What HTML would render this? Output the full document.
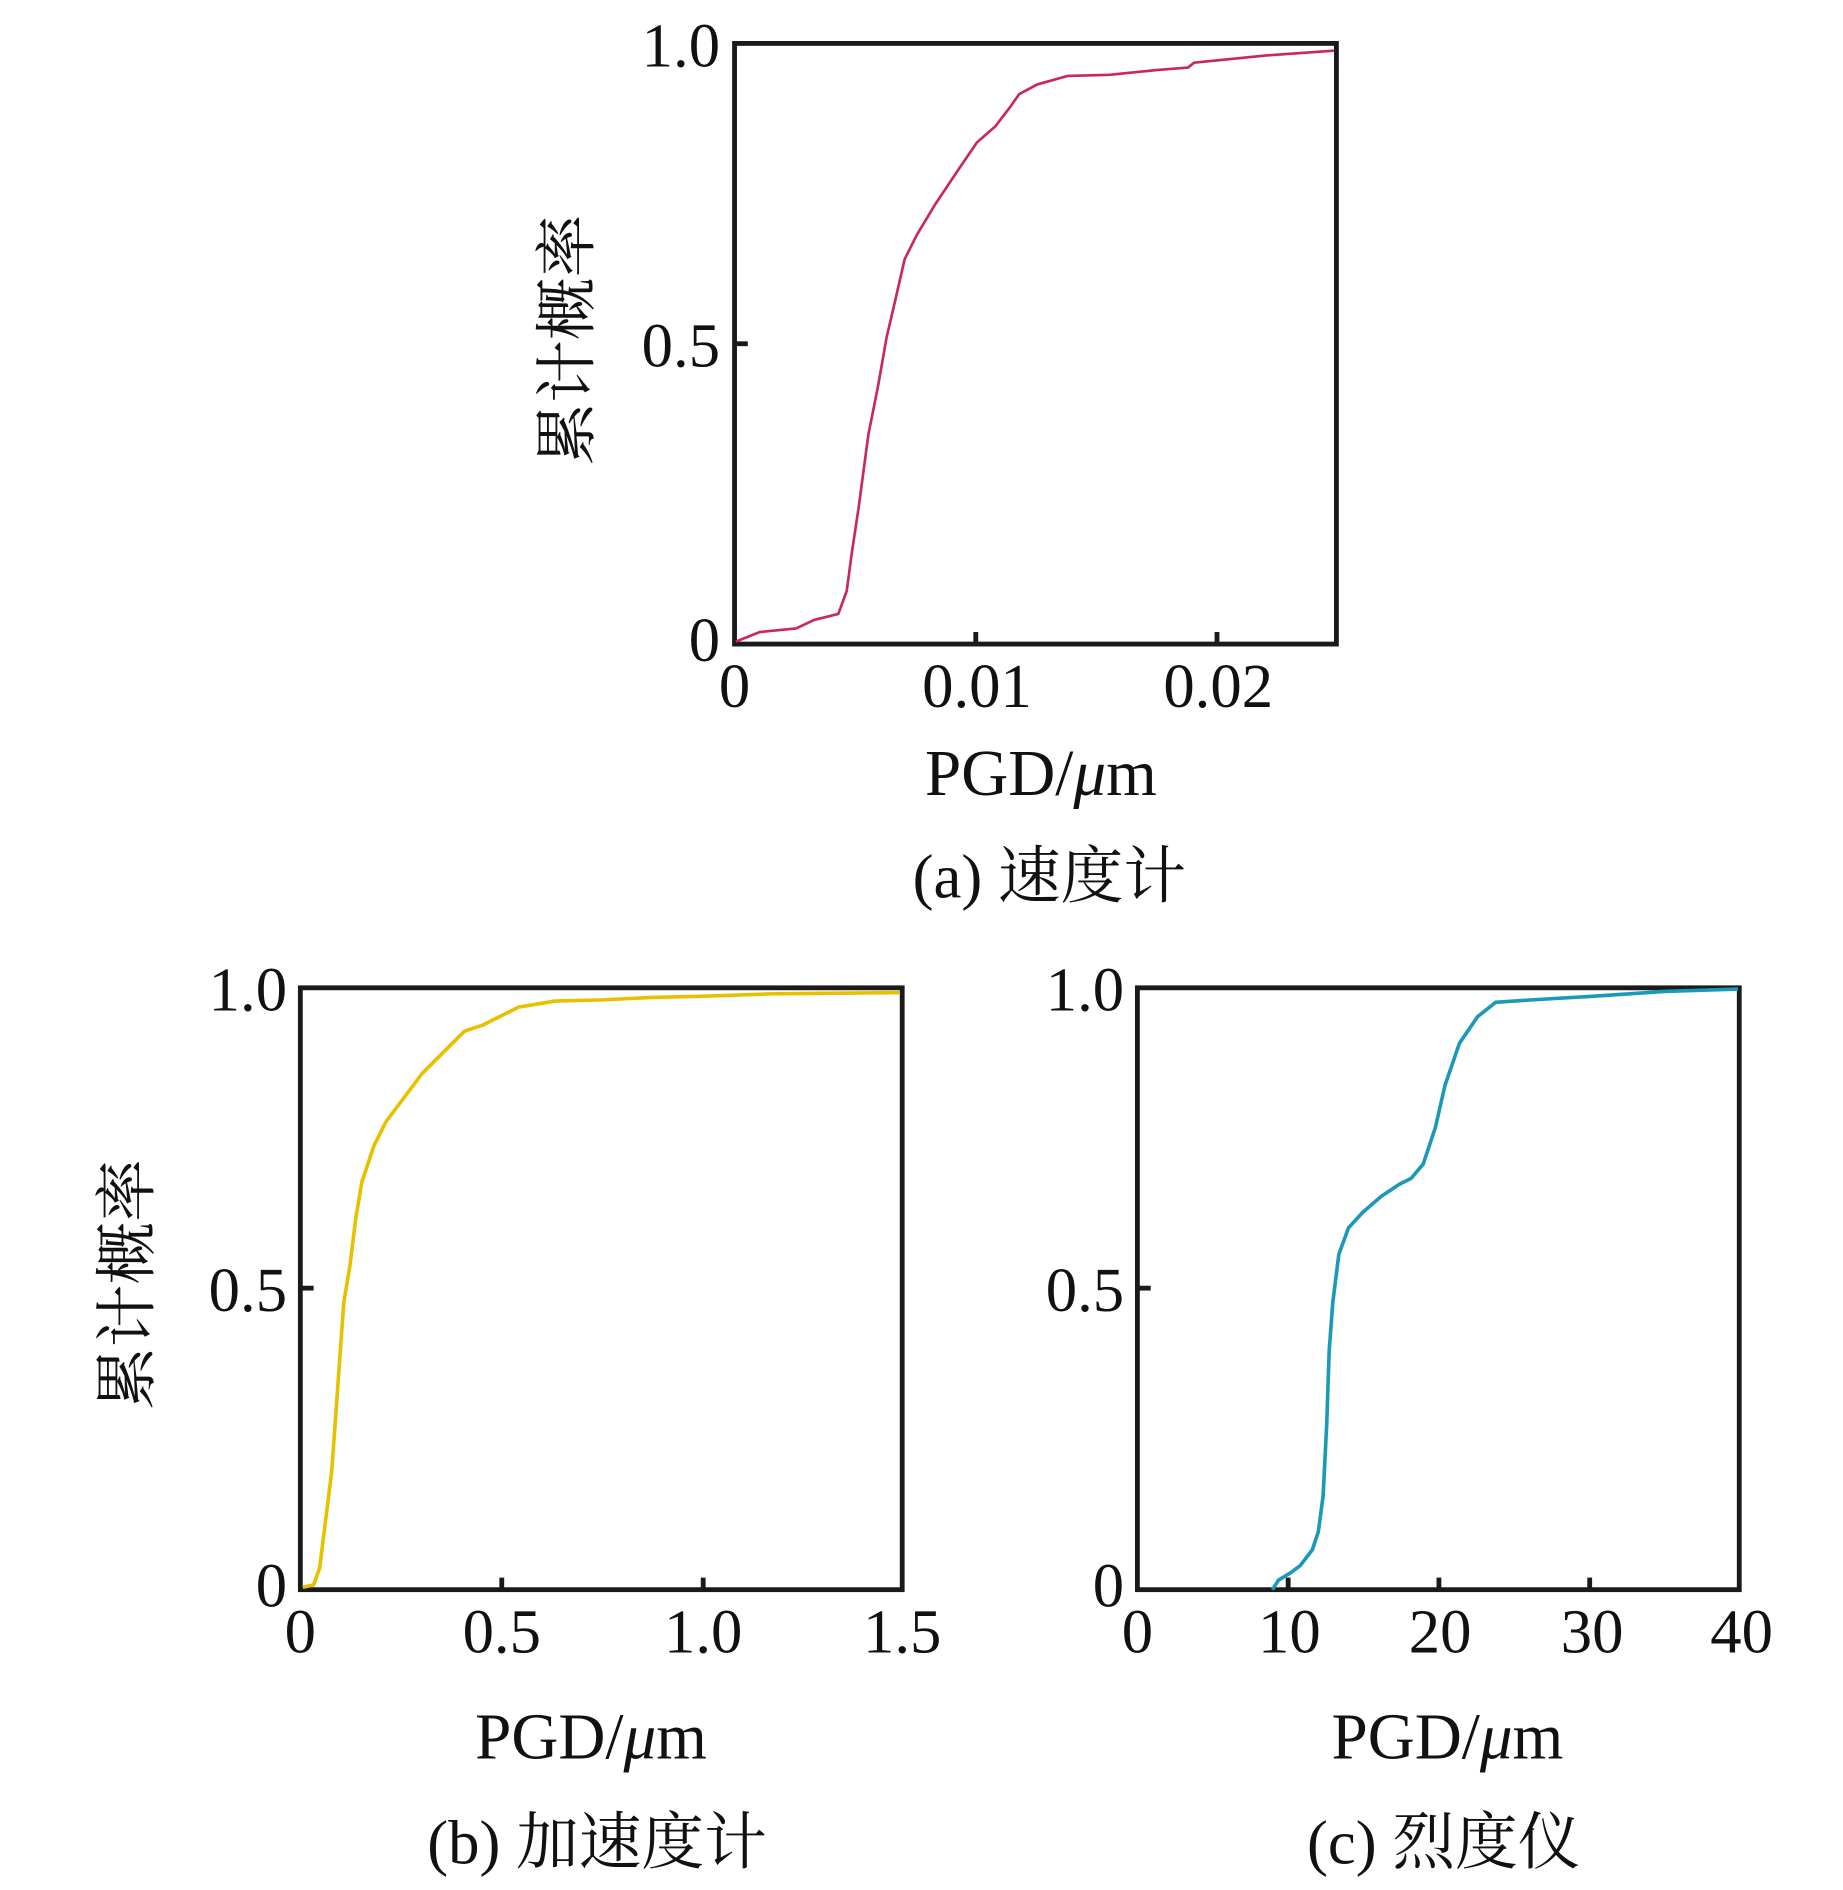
<!DOCTYPE html>
<html><head><meta charset="utf-8"><style>
html,body{margin:0;padding:0;background:#fff;}
svg{display:block;}
text{font-family:"Liberation Serif","Noto Serif CJK SC",serif;fill:#111;}
</style></head><body>
<svg width="1843" height="1890" viewBox="0 0 1528 1567" xmlns="http://www.w3.org/2000/svg">
<rect width="1528" height="1567" fill="#fff"/>
<!-- Plot a -->
<g stroke="#1a1a1a" stroke-width="4" fill="none">
<rect x="609" y="36" width="499" height="498"/>
<line x1="609" y1="285" x2="620" y2="285"/>
<line x1="809" y1="534" x2="809" y2="524"/>
<line x1="1009" y1="534" x2="1009" y2="524"/>
</g>
<polyline fill="none" stroke="#c8285a" stroke-width="2.2" stroke-linejoin="round" points="610,532 630,524 660,521 675,514 695,509 702,490 706,460 712,420 720,360 728,320 735,280 742,250 750,215 760,195 775,170 795,140 810,118 825,105 838,88 845,78 860,70 885,63 920,62 960,58 985,56 990,52 1050,46 1106,42"/>
<g font-size="52" text-anchor="end">
<text x="597" y="55">1.0</text>
<text x="597" y="304">0.5</text>
<text x="597" y="548">0</text>
</g>
<g font-size="52" text-anchor="middle">
<text x="609" y="586">0</text>
<text x="810" y="586">0.01</text>
<text x="1010" y="586">0.02</text>
<text x="863" y="659" font-size="54">PGD/<tspan font-style="italic">μ</tspan>m</text>
<text x="870" y="744" font-size="52">(a) 速度计</text>
<text transform="translate(488,282) rotate(-90)" font-size="52">累计概率</text>
</g>
<!-- Plot b -->
<g stroke="#1a1a1a" stroke-width="4" fill="none">
<rect x="249" y="819" width="499" height="499"/>
<line x1="249" y1="1068" x2="260" y2="1068"/>
<line x1="416" y1="1318" x2="416" y2="1308"/>
<line x1="583" y1="1318" x2="583" y2="1308"/>
</g>
<polyline fill="none" stroke="#e8c000" stroke-width="3" stroke-linejoin="round" points="251,1316 260,1314 265,1300 270,1260 275,1220 280,1150 285,1080 290,1050 295,1010 300,980 310,950 320,930 335,910 350,890 370,870 385,855 400,850 410,845 430,835 460,830 500,829 540,827 580,826 640,824 746,823"/>
<g font-size="52" text-anchor="end">
<text x="238" y="838">1.0</text>
<text x="238" y="1087">0.5</text>
<text x="238" y="1332">0</text>
</g>
<g font-size="52" text-anchor="middle">
<text x="249" y="1370">0</text>
<text x="416" y="1370">0.5</text>
<text x="583" y="1370">1.0</text>
<text x="748" y="1370">1.5</text>
<text x="490" y="1458" font-size="54">PGD/<tspan font-style="italic">μ</tspan>m</text>
<text x="495" y="1545">(b) 加速度计</text>
<text transform="translate(123,1065) rotate(-90)">累计概率</text>
</g>
<!-- Plot c -->
<g stroke="#1a1a1a" stroke-width="4" fill="none">
<rect x="943" y="819" width="499" height="499"/>
<line x1="943" y1="1068" x2="954" y2="1068"/>
<line x1="1068" y1="1318" x2="1068" y2="1308"/>
<line x1="1193" y1="1318" x2="1193" y2="1308"/>
<line x1="1318" y1="1318" x2="1318" y2="1308"/>
</g>
<polyline fill="none" stroke="#1a9ab8" stroke-width="3" stroke-linejoin="round" points="1055,1318 1060,1310 1070,1304 1078,1298 1088,1285 1093,1270 1097,1240 1100,1180 1102,1120 1105,1080 1110,1040 1118,1018 1130,1005 1145,992 1160,982 1170,977 1180,965 1190,935 1198,900 1210,865 1225,843 1240,831 1270,829 1320,826 1380,822 1441,820"/>
<g font-size="52" text-anchor="end">
<text x="932" y="838">1.0</text>
<text x="932" y="1087">0.5</text>
<text x="932" y="1332">0</text>
</g>
<g font-size="52" text-anchor="middle">
<text x="943" y="1370">0</text>
<text x="1069" y="1370">10</text>
<text x="1194" y="1370">20</text>
<text x="1320" y="1370">30</text>
<text x="1444" y="1370">40</text>
<text x="1200" y="1458" font-size="54">PGD/<tspan font-style="italic">μ</tspan>m</text>
<text x="1197" y="1545">(c) 烈度仪</text>
</g>
</svg>
</body></html>
